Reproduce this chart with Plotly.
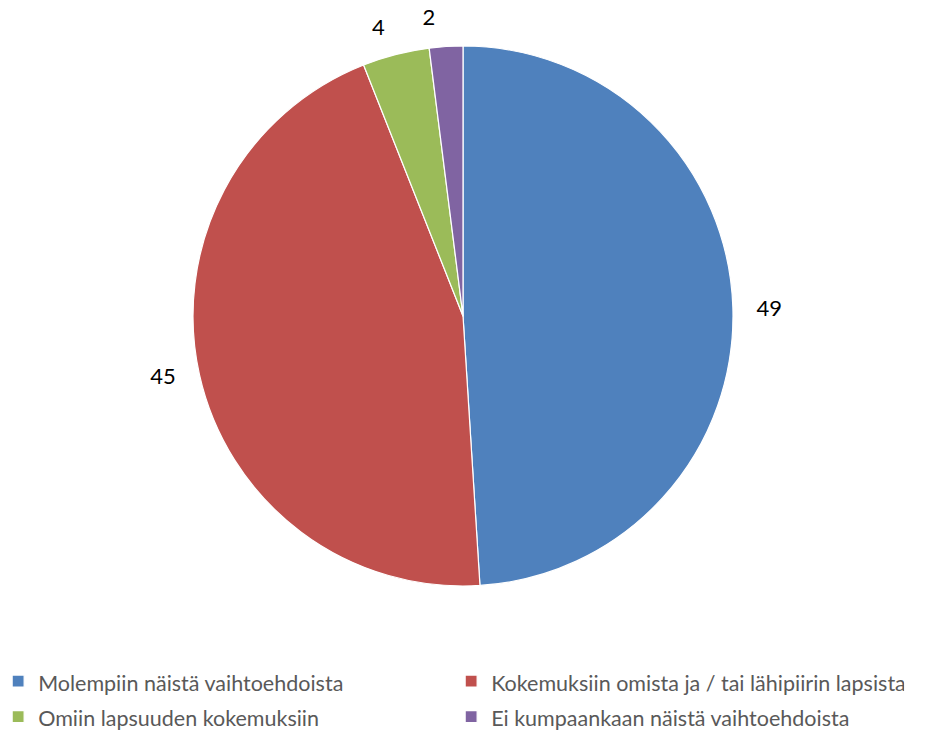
import plotly.graph_objects as go

labels = ["Molempiin näistä vaihtoehdoista",
          "Kokemuksiin omista ja / tai lähipiirin lapsista",
          "Omiin lapsuuden kokemuksiin",
          "Ei kumpaankaan näistä vaihtoehdoista"]
values = [49, 45, 4, 2]
colors = ["#4F81BD", "#C0504D", "#9BBB59", "#8064A2"]

W, H = 929, 740
cx = 463 / W
PAD = "\u00a0\u00a0\u00a0"
SIDE_T = PAD + "%{value}" + PAD
TOP_T = '<span style="font-size:22px">%{value}</span><br>\u00a0'

legend_labels = ['<span style="font-size:21.5px">%s</span>' % l for l in labels]

common = dict(
    labels=legend_labels,
    values=values,
    sort=False,
    direction="clockwise",
    rotation=0,
    textinfo="value",
    domain=dict(x=[cx - 0.45, cx + 0.45], y=[0, 1]),
    hoverinfo="skip",
)

# main pie: slices + labels for the first three slices
fig = go.Figure(go.Pie(
    marker=dict(colors=colors, line=dict(color="white", width=1.2)),
    textposition=["outside", "outside", "outside", "none"],
    texttemplate=[SIDE_T, SIDE_T, TOP_T, TOP_T],
    textfont=dict(size=[22, 22, 14, 14], color="#000000", family="Lato"),
    **common,
))
# transparent overlay carrying the label of the smallest slice
fig.add_trace(go.Pie(
    marker=dict(colors=["rgba(0,0,0,0)"] * len(values), line=dict(width=0)),
    textposition=["none", "none", "none", "outside"],
    texttemplate=[SIDE_T, SIDE_T, TOP_T, TOP_T],
    textfont=dict(size=[22, 22, 14, 14], color="#000000", family="Lato"),
    showlegend=False,
    **common,
))

fig.update_layout(
    width=W, height=H,
    margin=dict(l=0, r=0, t=46, b=154, autoexpand=False),
    paper_bgcolor="white",
    plot_bgcolor="white",
    font=dict(family="Lato", color="#595959"),
    showlegend=True,
    legend=dict(
        orientation="h",
        x=-0.002, xanchor="left",
        y=-0.134, yanchor="top",
        entrywidth=408,
        font=dict(size=25, color="#595959", family="Lato"),
        bgcolor="rgba(0,0,0,0)",
    ),
)

fig.write_html("out.html", config={"displayModeBar": False},
               post_script="document.body.style.margin='0';")
